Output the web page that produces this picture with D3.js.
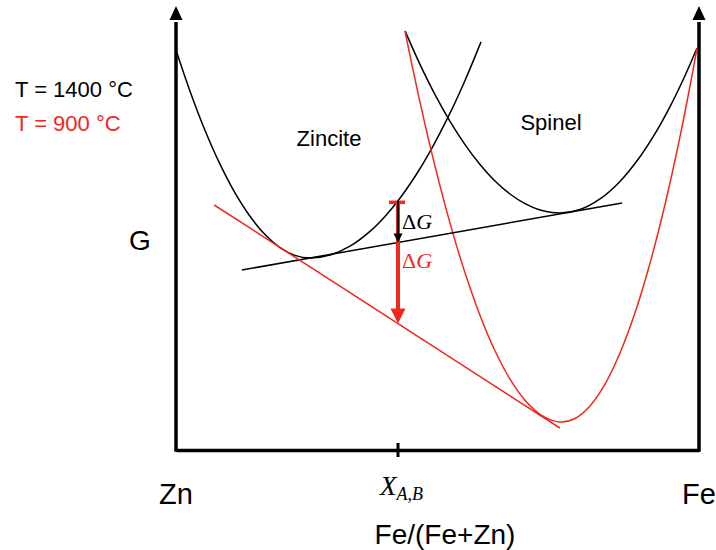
<!DOCTYPE html>
<html>
<head>
<meta charset="utf-8">
<script src="https://cdn.jsdelivr.net/npm/d3@7"></script>
<style>
  html, body { margin: 0; padding: 0; background: #fff; }
  svg { display: block; }
  text { font-family: "Liberation Sans", Arial, Helvetica, sans-serif; }
  .serif { font-family: "Liberation Serif", "Times New Roman", serif; }
</style>
</head>
<body>
<svg id="chart" width="716" height="550"></svg>
<script>
// ---- data (composition Fe/(Fe+Zn), Gibbs energy in arbitrary units) ----
const zinciteX = [0, 0.0268, 0.0554, 0.0841, 0.1128, 0.1415, 0.1702, 0.1989, 0.2275, 0.2562, 0.2945, 0.3327, 0.3709, 0.3996, 0.4245, 0.4570, 0.4857, 0.5239, 0.5526, 0.5832];
const zinciteG = [40.0, 35.88, 31.97, 28.58, 25.71, 23.37, 21.54, 20.24, 19.46, 19.2, 19.5, 20.38, 21.86, 23.36, 24.92, 27.35, 29.84, 33.68, 36.95, 40.81];

const spinel1400X = [0.4379, 0.4665, 0.4952, 0.5239, 0.5526, 0.5813, 0.6099, 0.6386, 0.6673, 0.6960, 0.7342, 0.7725, 0.8107, 0.8489, 0.8872, 0.9159, 0.9446, 0.9732, 0.9962];
const spinel1400G = [41.91, 38.56, 35.54, 32.87, 30.54, 28.55, 26.90, 25.60, 24.63, 24.00, 23.70, 24.05, 25.11, 26.86, 29.33, 31.63, 34.34, 37.43, 40.20];

const spinel900X = [0.4379, 0.4512, 0.4665, 0.4857, 0.5048, 0.5277, 0.5526, 0.5813, 0.6099, 0.6386, 0.6673, 0.6960, 0.7189, 0.7380, 0.7629, 0.7916, 0.8203, 0.8489, 0.8776, 0.9063, 0.9350, 0.9637, 0.9828, 0.9962];
const spinel900G = [41.89, 38.49, 34.78, 30.43, 26.41, 21.99, 17.72, 13.46, 9.92, 7.09, 4.97, 3.57, 2.96, 2.80, 3.15, 4.41, 6.59, 9.70, 13.72, 18.68, 24.55, 31.34, 36.39, 40.16];

const tangent1400X = [0.126, 0.853];
const tangent1400G = [18, 24.7];
const tangent900X = [0.073, 0.734];
const tangent900G = [24.5, 2.2];

const xAB = 0.4245;
const xTickLabels = ["Zn", "Fe"];
const legendLabels = ["T = 1400 °C", "T = 900 °C"];
const phaseLabels = ["Zincite", "Spinel"];

// ---- scales ----
const svg = d3.select("#chart");
const x = d3.scaleLinear().domain([0, 1]).range([176, 699]);
const y = d3.scaleLinear().domain([0, 44.5]).range([450, 5]);

const lineGen = d3.line().x(d => x(d[0])).y(d => y(d[1])).curve(d3.curveCatmullRom.alpha(0.5));
const zip = (a, b) => a.map((v, i) => [v, b[i]]);
const lerp = (xs, gs, xv) => gs[0] + (gs[1] - gs[0]) * (xv - xs[0]) / (xs[1] - xs[0]);
const RED = "#f0281e";

// ---- axes ----
const axisG = svg.append("g").attr("transform", `translate(0,${y(0)})`)
  .call(d3.axisBottom(x).tickValues([]).tickSizeOuter(0));
axisG.select(".domain").attr("stroke", "#000").attr("stroke-width", 3.5);

const yAxisL = svg.append("g").attr("transform", `translate(${x(0)},0)`)
  .call(d3.axisLeft(y).tickValues([]).tickSizeOuter(0));
yAxisL.select(".domain").attr("stroke", "#000").attr("stroke-width", 3.5).attr("d", `M0,${y(0) + 1.75}V${y(42.8)}`);
const yAxisR = svg.append("g").attr("transform", `translate(${x(1)},0)`)
  .call(d3.axisRight(y).tickValues([]).tickSizeOuter(0));
yAxisR.select(".domain").attr("stroke", "#000").attr("stroke-width", 3.5).attr("d", `M0,${y(0) + 1.75}V${y(42.8)}`);

[0, 1].forEach(v => {
  const cx = x(v), top = y(44.4);
  svg.append("path").attr("d", `M${cx},${top}L${cx - 6.5},${top + 14}L${cx + 6.5},${top + 14}Z`).attr("fill", "#000");
});

// tick at X_A,B
svg.append("line").attr("x1", x(xAB)).attr("x2", x(xAB)).attr("y1", y(0) - 7).attr("y2", y(0) + 7)
  .attr("stroke", "#000").attr("stroke-width", 3);

// ---- curves ----
svg.append("path").attr("d", lineGen(zip(zinciteX, zinciteG))).attr("fill", "none").attr("stroke", "#000").attr("stroke-width", 1.5);
svg.append("path").attr("d", lineGen(zip(spinel1400X, spinel1400G))).attr("fill", "none").attr("stroke", "#000").attr("stroke-width", 1.5);
svg.append("path").attr("d", lineGen(zip(spinel900X, spinel900G))).attr("fill", "none").attr("stroke", RED).attr("stroke-width", 1.5);

svg.append("line").attr("x1", x(tangent1400X[0])).attr("y1", y(tangent1400G[0]))
  .attr("x2", x(tangent1400X[1])).attr("y2", y(tangent1400G[1])).attr("stroke", "#000").attr("stroke-width", 1.5);
svg.append("line").attr("x1", x(tangent900X[0])).attr("y1", y(tangent900G[0]))
  .attr("x2", x(tangent900X[1])).attr("y2", y(tangent900G[1])).attr("stroke", RED).attr("stroke-width", 1.5);

// ---- ΔG arrows ----
const gTop = zinciteG[zinciteX.indexOf(xAB)];
const g1400 = lerp(tangent1400X, tangent1400G, xAB);
const g900 = lerp(tangent900X, tangent900G, xAB);
const ax = x(xAB);

svg.append("line").attr("x1", ax - 9).attr("x2", ax + 7).attr("y1", y(gTop) + 1.5).attr("y2", y(gTop) + 1.5)
  .attr("stroke", RED).attr("stroke-width", 3.5);
svg.append("line").attr("x1", ax).attr("x2", ax).attr("y1", y(gTop) + 1.5).attr("y2", y(g900) - 12)
  .attr("stroke", RED).attr("stroke-width", 4);
svg.append("path").attr("d", `M${ax},${y(g900)}L${ax - 7.5},${y(g900) - 15}L${ax + 7.5},${y(g900) - 15}Z`).attr("fill", RED);

svg.append("line").attr("x1", ax).attr("x2", ax).attr("y1", y(gTop)).attr("y2", y(g1400) - 7)
  .attr("stroke", "#000").attr("stroke-width", 2);
svg.append("path").attr("d", `M${ax},${y(g1400)}L${ax - 4.5},${y(g1400) - 9}L${ax + 4.5},${y(g1400) - 9}Z`).attr("fill", "#000");

const dg1 = svg.append("text").attr("class", "serif").attr("x", ax + 4).attr("y", 229).attr("font-size", 22).attr("fill", "#000");
dg1.append("tspan").text("Δ");
dg1.append("tspan").attr("font-style", "italic").text("G");
const dg2 = svg.append("text").attr("class", "serif").attr("x", ax + 4).attr("y", 268).attr("font-size", 22).attr("fill", RED);
dg2.append("tspan").text("Δ");
dg2.append("tspan").attr("font-style", "italic").text("G");

// ---- text ----
svg.append("text").attr("x", x(0)).attr("y", 504).attr("text-anchor", "middle").attr("font-size", 29).text(xTickLabels[0]);
svg.append("text").attr("x", x(1)).attr("y", 504).attr("text-anchor", "middle").attr("font-size", 29).text(xTickLabels[1]);
svg.append("text").attr("x", 445).attr("y", 544).attr("text-anchor", "middle").attr("font-size", 28).text("Fe/(Fe+Zn)");
svg.append("text").attr("x", 140).attr("y", 250).attr("text-anchor", "middle").attr("font-size", 28).text("G");

const xl = svg.append("text").attr("class", "serif").attr("x", 380).attr("y", 495).attr("font-size", 27);
xl.append("tspan").attr("font-style", "italic").text("X");
xl.append("tspan").attr("font-style", "italic").attr("font-size", 18).attr("dy", 5).text("A,B");

svg.append("text").attr("x", 329).attr("y", 146).attr("text-anchor", "middle").attr("font-size", 22).text(phaseLabels[0]);
svg.append("text").attr("x", 551).attr("y", 130).attr("text-anchor", "middle").attr("font-size", 22).text(phaseLabels[1]);

svg.append("text").attr("x", 15).attr("y", 97).attr("font-size", 22).attr("fill", "#000").text(legendLabels[0]);
svg.append("text").attr("x", 15).attr("y", 131).attr("font-size", 22).attr("fill", RED).text(legendLabels[1]);
</script>
</body>
</html>
